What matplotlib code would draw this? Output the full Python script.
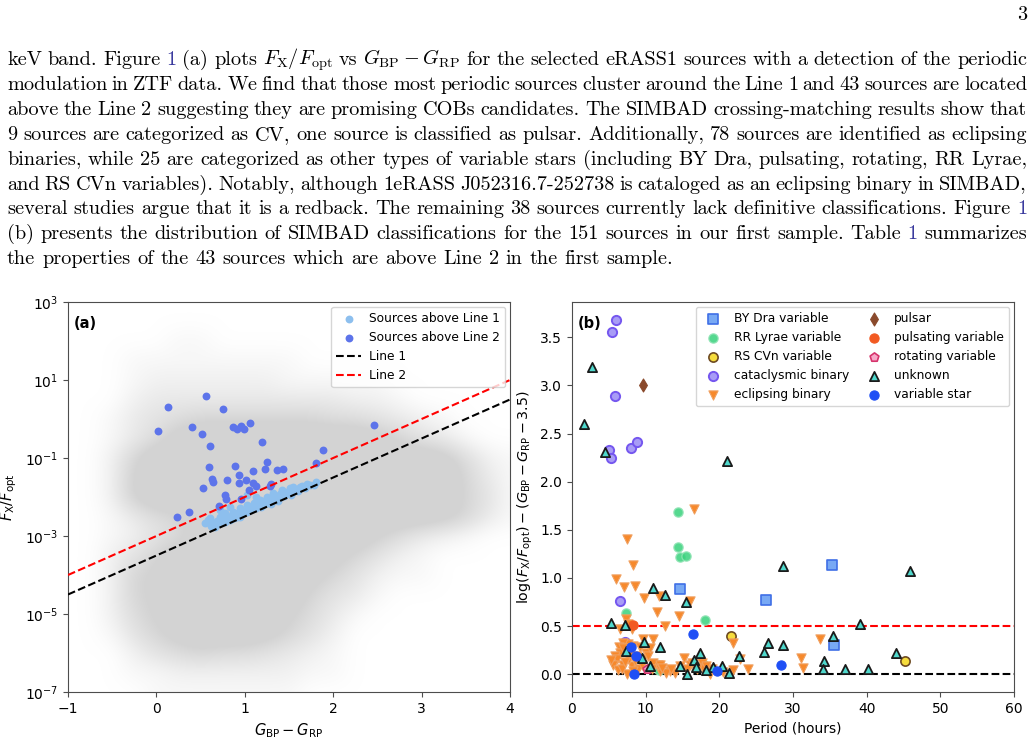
import numpy as np
import matplotlib
matplotlib.use('Agg')
import matplotlib.pyplot as plt
from matplotlib.colors import LinearSegmentedColormap
from matplotlib.ticker import FixedLocator, NullLocator

W, H = 1034, 754

# ---- page text (words starting with @ are cross-reference links) ----
para_lines = [
    r"keV band. Figure @1 (a) plots $F_\mathrm{X}/F_\mathrm{opt}$ vs $G_\mathrm{BP}-G_\mathrm{RP}$ for the selected eRASS1 sources with a detection of the periodic",
    "modulation in ZTF data. We find that those most periodic sources cluster around the Line 1 and 43 sources are located",
    "above the Line 2 suggesting they are promising COBs candidates. The SIMBAD crossing-matching results show that",
    "9 sources are categorized as CV, one source is classified as pulsar. Additionally, 78 sources are identified as eclipsing",
    "binaries, while 25 are categorized as other types of variable stars (including BY Dra, pulsating, rotating, RR Lyrae,",
    "and RS CVn variables). Notably, although 1eRASS J052316.7-252738 is cataloged as an eclipsing binary in SIMBAD,",
    "several studies argue that it is a redback. The remaining 38 sources currently lack definitive classifications. Figure @1",
    "(b) presents the distribution of SIMBAD classifications for the 151 sources in our first sample. Table @1 summarizes",
    "the properties of the 43 sources which are above Line 2 in the first sample.",
]
page_number = "3"
LINK = '#3b3b9e'

# ---- panel (a): background density of all eRASS1 sources (read by eye, 0..9) ----
# columns: G_BP-G_RP = -1.0 ... 4.0 step 0.25 ; rows: log(Fx/Fopt) = 3.0 ... -7.0 step -0.5
dens_rows = [
    "000000000000000000000",
    "000000000000000000000",
    "000001100000000000000",
    "000111111110000000000",
    "000122222211111000000",
    "000233333333322100000",
    "001345666666554321000",
    "001358999999998643100",
    "002699999999999998521",
    "002799999999999999631",
    "002799999999999999641",
    "001356999999999998631",
    "001245899999997532100",
    "002469999999864210000",
    "002679999998642110000",
    "002678999996431000000",
    "002578999975310000000",
    "001468999864200000000",
    "000245655432100000000",
    "000112222221100000000",
    "000011111110000000000",
]

# sources above Line 2 (G_BP-G_RP, log Fx/Fopt)
above2_c = [0.02, 0.13, 0.56, 0.75, 0.40, 0.52, 0.61, 0.87, 0.91, 0.96, 0.99, 1.06,
            1.19, 2.46, 1.89, 1.80, 0.59, 0.89, 0.93, 1.09, 1.25, 1.23, 1.36, 1.43,
            0.63, 0.64, 0.80, 0.94, 1.01, 1.09, 1.13, 1.05, 0.53, 0.78, 0.79, 0.96,
            0.71, 0.37, 0.23, 1.30, 1.28]
above2_l = [-0.30, 0.31, 0.60, 0.26, -0.21, -0.38, -0.68, -0.21, -0.26, -0.17, -0.26, -0.11,
            -0.60, -0.15, -0.79, -1.13, -1.22, -1.21, -1.44, -1.34, -1.11, -1.27, -1.32, -1.28,
            -1.54, -1.62, -1.57, -1.64, -1.57, -1.64, -1.73, -1.81, -1.77, -1.94, -2.05, -2.04,
            -2.22, -2.38, -2.51, -1.66, -1.73]

# sources between Line 1 and Line 2
above1_c = [0.55, 0.61, 0.66, 0.72, 0.78, 0.83, 0.87, 0.91, 0.95, 0.98, 1.02, 1.06,
            1.10, 1.13, 1.17, 1.21, 1.25, 1.29, 1.32, 1.36, 1.42, 1.46, 1.51, 1.57,
            1.62, 1.68, 1.74, 1.81, 1.02, 1.13, 0.83, 0.72, 0.64, 0.95,
            0.58, 0.62, 0.68, 0.70, 0.74, 0.78, 0.80, 0.85, 0.88, 0.92, 0.95, 0.99,
            1.03, 1.05, 1.08, 1.12, 1.15, 1.18, 1.22, 1.25, 1.28, 1.30, 1.34, 1.38,
            1.40, 1.44, 1.48, 1.52, 1.55, 1.60, 1.65, 1.70, 1.78]
above1_l = [-2.67, -2.55, -2.76, -2.50, -2.42, -2.59, -2.38, -2.50, -2.29, -2.42, -2.21, -2.33,
            -2.16, -2.29, -2.08, -2.21, -1.99, -2.12, -1.91, -1.99, -1.82, -1.91, -1.78, -1.82,
            -1.74, -1.78, -1.69, -1.61, -1.95, -1.99, -2.25, -2.33, -2.67, -2.50,
            -2.60, -2.75, -2.62, -2.70, -2.58, -2.65, -2.52, -2.45, -2.55, -2.40, -2.45, -2.35,
            -2.38, -2.25, -2.30, -2.20, -2.12, -2.25, -2.10, -2.15, -2.05, -2.18, -2.02, -2.10,
            -1.92, -1.98, -1.88, -1.95, -1.75, -1.85, -1.72, -1.66, -1.70]

# ---- panel (b): period (hours) vs log(Fx/Fopt) - (G_BP - G_RP - 3.5) by SIMBAD class ----
by_dra_p = [14.65, 26.4, 35.35, 35.5]
by_dra_v = [0.89, 0.77, 1.13, 0.30]
rr_lyr_p = [14.33, 14.33, 14.7, 15.46, 17.99, 7.37, 17.85, 11.8]
rr_lyr_v = [1.69, 1.32, 1.22, 1.23, 0.56, 0.64, 0.11, 0.04]
rs_cvn_p = [21.65, 45.16]
rs_cvn_v = [0.40, 0.14]
cv_p = [5.97, 5.42, 5.88, 4.97, 5.33, 8.0, 8.82, 6.46, 7.14]
cv_v = [3.68, 3.55, 2.885, 2.33, 2.25, 2.35, 2.41, 0.76, 0.335]
ecl_p = [16.52, 7.47, 8.28, 5.97, 7.10, 8.50, 9.82, 11.8, 11.5, 14.5, 16.0, 12.67,
         6.50, 7.38, 8.14, 9.64, 11.04, 21.9, 33.67, 31.13, 31.4, 23.85, 22.8, 15.2,
         17.6, 17.8, 17.0, 18.7, 19.0, 20.5, 21.9, 16.0, 14.66, 13.98, 13.3, 12.8,
         11.95, 11.7, 11.04, 10.04, 8.87, 8.33, 7.65, 6.97, 6.43, 6.50, 5.84, 6.15,
         5.61, 6.30, 6.97, 7.42, 8.10, 9.00, 9.46, 9.60, 10.36, 7.78, 8.33, 6.74,
         10.8, 11.95, 7.65, 8.20, 6.9, 7.9, 8.6, 9.2, 10.6, 12.2, 13.5, 15.6,
         16.3, 18.2, 5.3, 7.2]
ecl_v = [1.714, 1.40, 1.13, 0.99, 0.91, 0.92, 0.79, 0.81, 0.65, 0.61, 0.76, 0.50,
         0.47, 0.57, 0.49, 0.37, 0.37, 0.33, 0.37, 0.17, 0.07, 0.06, 0.16, 0.17,
         0.12, 0.07, 0.05, 0.0, 0.06, 0.02, 0.045, 0.10, 0.086, 0.01, 0.03, 0.01,
         0.034, 0.10, 0.12, 0.22, 0.19, 0.29, 0.31, 0.33, 0.28, 0.22, 0.19, 0.155,
         0.097, 0.045, 0.10, 0.0, 0.086, 0.05, 0.10, 0.155, 0.19, 0.155, 0.034, 0.05,
         0.05, 0.097, 0.52, 0.47, 0.27, 0.22, 0.14, 0.28, 0.27, 0.07, 0.05, 0.05,
         0.12, 0.09, 0.15, 0.13]
pulsar_p = [9.58]
pulsar_v = [3.00]
pulsating_p = [8.27]
pulsating_v = [0.51]
rotating_p = [10.17]
rotating_v = [0.06]
unknown_p = [2.76, 1.58, 4.52, 21.07, 28.66, 45.84, 10.99, 12.61, 15.46, 5.24, 7.23, 39.15,
             35.49, 9.72, 26.58, 11.93, 28.71, 17.4, 26.13, 7.32, 43.99, 22.65, 9.45, 16.59,
             34.27, 10.62, 14.65, 16.86, 19.12, 20.34, 34.04, 37.07, 40.14, 18.13, 15.64, 21.34]
unknown_v = [3.19, 2.60, 2.31, 2.21, 1.12, 1.07, 0.90, 0.82, 0.75, 0.53, 0.51, 0.52,
             0.40, 0.34, 0.33, 0.28, 0.30, 0.22, 0.23, 0.24, 0.22, 0.19, 0.17, 0.145,
             0.14, 0.09, 0.085, 0.08, 0.08, 0.09, 0.05, 0.05, 0.05, 0.04, 0.0, 0.01]
varstar_p = [8.0, 8.73, 8.36, 16.41, 28.39, 19.67]
varstar_v = [0.28, 0.19, 0.0, 0.42, 0.10, 0.035]

# ================= figure =================
fig = plt.figure(figsize=(W / 100, H / 100), dpi=100)
renderer = fig.canvas.get_renderer()

# justified paragraph
left_px, right_px = 7, 1027
for i, line in enumerate(para_lines):
    y = 1 - (65 + 24.9 * i) / H
    objs = []
    for w in line.split(' '):
        col = LINK if w.startswith('@') else 'black'
        t = fig.text(0, y, w.lstrip('@'), fontsize=14.6, family='cmr10',
                     math_fontfamily='cm', color=col, va='baseline', ha='left')
        objs.append(t)
    widths = [t.get_window_extent(renderer).width for t in objs]
    if i < len(para_lines) - 1:
        gap = (right_px - left_px - sum(widths)) / (len(objs) - 1)
    else:
        gap = 6.8
    x = left_px
    for t, wd in zip(objs, widths):
        t.set_x(x / W)
        x += wd + gap
fig.text(1027 / W, 1 - 20 / H, page_number, fontsize=14.6, family='cmr10',
         va='baseline', ha='right')

spine_col = '0.3'


def style_axes(ax):
    for s in ax.spines.values():
        s.set_color(spine_col)
    ax.tick_params(colors=spine_col, labelcolor='black', labelsize=10)


# ---- panel (a) ----
rect_a = [68 / W, 1 - 692 / H, 442 / W, 390 / H]
# background density drawn in a linear (log10) frame behind the log axes
axbg = fig.add_axes(rect_a, zorder=0)
dens = np.array([[int(c) for c in row] for row in dens_rows], dtype=float)
cmap = LinearSegmentedColormap.from_list('grey', ['white', '#e8e8e8', '#d3d3d3'])
axbg.imshow(dens, extent=[-1.125, 4.125, -7.25, 3.25], cmap=cmap, vmin=0, vmax=6.5,
            interpolation='bicubic', aspect='auto', origin='upper')
axbg.set_xlim(-1, 4)
axbg.set_ylim(-7, 3)
axbg.axis('off')

axa = fig.add_axes(rect_a, zorder=1)
axa.patch.set_alpha(0)
axa.set_yscale('log')
line_x = np.array([-1.0, 4.0])
axa.scatter(above1_c, 10.0 ** np.array(above1_l), s=32, color='#8dbfee', zorder=2,
            label='Sources above Line 1', linewidths=0)
axa.scatter(above2_c, 10.0 ** np.array(above2_l), s=32, color='#5d74ea', zorder=3,
            label='Sources above Line 2', linewidths=0)
axa.plot(line_x, 10.0 ** (line_x - 3.5), 'k--', lw=1.5, label='Line 1', zorder=4)
axa.plot(line_x, 10.0 ** (line_x - 3.0), '--', color='red', lw=1.5, label='Line 2', zorder=4)
axa.set_xlim(-1, 4)
axa.set_ylim(1e-7, 1e3)
axa.yaxis.set_major_locator(FixedLocator([1e-7, 1e-5, 1e-3, 1e-1, 1e1, 1e3]))
axa.yaxis.set_minor_locator(NullLocator())
axa.set_xticks([-1, 0, 1, 2, 3, 4])
axa.set_xlabel(r'$G_\mathrm{BP}-G_\mathrm{RP}$', fontsize=10.5)
axa.set_ylabel(r'$F_\mathrm{X}/F_\mathrm{opt}$', fontsize=10.5)
axa.text(0.012, 0.965, '(a)', transform=axa.transAxes, fontsize=10.5, fontweight='bold',
         va='top', ha='left')
axa.legend(loc='upper right', fontsize=8.8, borderaxespad=0.4, handletextpad=0.7)
style_axes(axa)

# ---- panel (b) ----
axb = fig.add_axes([572 / W, 1 - 692 / H, 442 / W, 390 / H])
ms = 44
axb.scatter(by_dra_p, by_dra_v, s=ms, marker='s', facecolor='#78a9f4', edgecolor='#3f6fe6',
            linewidths=1.2, label='BY Dra variable', zorder=3)
axb.scatter(rr_lyr_p, rr_lyr_v, s=ms, marker='o', facecolor='#37d27c', edgecolor='#8de3b2',
            linewidths=1.0, alpha=0.85, label='RR Lyrae variable', zorder=3)
axb.scatter(rs_cvn_p, rs_cvn_v, s=ms, marker='o', facecolor='#f6dc3c', edgecolor='#6e4a22',
            linewidths=1.2, label='RS CVn variable', zorder=3)
axb.scatter(cv_p, cv_v, s=ms, marker='o', facecolor='#a89cf6', edgecolor='#7557ef',
            linewidths=1.4, label='cataclysmic binary', zorder=3)
axb.scatter(ecl_p, ecl_v, s=ms, marker='v', facecolor='#f7892c', edgecolor='#f0a060',
            linewidths=0.8, label='eclipsing binary', zorder=3)
axb.scatter(pulsar_p, pulsar_v, s=ms, marker='d', facecolor='#8a4a2c', edgecolor='#8a4a2c',
            linewidths=0.8, label='pulsar', zorder=3)
axb.scatter(pulsating_p, pulsating_v, s=ms, marker='o', facecolor='#f25a22', edgecolor='#f25a22',
            linewidths=0.8, label='pulsating variable', zorder=3)
axb.scatter(rotating_p, rotating_v, s=ms, marker='p', facecolor='#f7a8c8', edgecolor='#d6336c',
            linewidths=1.2, label='rotating variable', zorder=3)
axb.scatter(unknown_p, unknown_v, s=ms, marker='^', facecolor='#4fd8cc', edgecolor='#1a1a1a',
            linewidths=1.3, label='unknown', zorder=3)
axb.scatter(varstar_p, varstar_v, s=ms, marker='o', facecolor='#1f4ff5', edgecolor='#1f4ff5',
            linewidths=0.8, label='variable star', zorder=3)
axb.axhline(0.0, color='black', ls='--', lw=1.5, zorder=2)
axb.axhline(0.5, color='red', ls='--', lw=1.5, zorder=2)
axb.set_xlim(0, 60)
axb.set_ylim(-0.184, 3.866)
axb.set_xticks([0, 10, 20, 30, 40, 50, 60])
axb.set_yticks([0.0, 0.5, 1.0, 1.5, 2.0, 2.5, 3.0, 3.5])
axb.set_xlabel('Period (hours)', fontsize=10)
axb.set_ylabel(r'$\log(F_\mathrm{X}/F_\mathrm{opt})-(G_\mathrm{BP}-G_\mathrm{RP}-3.5)$',
               fontsize=10.3)
axb.text(0.012, 0.965, '(b)', transform=axb.transAxes, fontsize=10.5, fontweight='bold',
         va='top', ha='left')
axb.legend(loc='upper right', ncol=2, fontsize=8.8, borderaxespad=0.4, columnspacing=1.0,
           handletextpad=0.7)
style_axes(axb)

fig.savefig('out.png', dpi=100)
